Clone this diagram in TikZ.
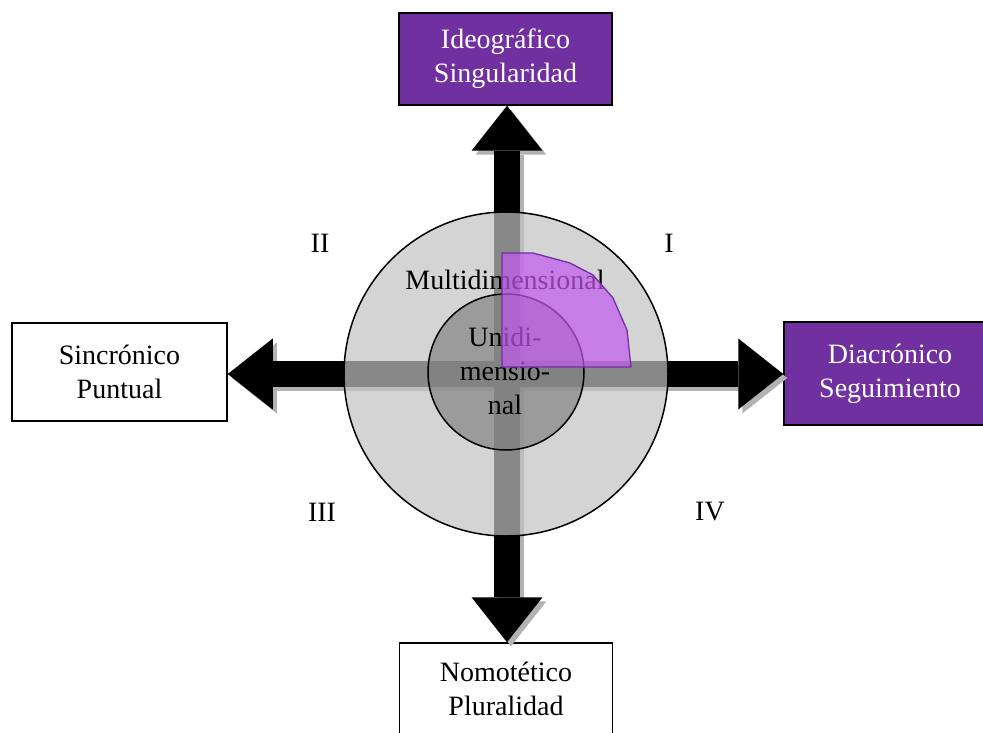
\documentclass[tikz,border=0pt]{standalone}
\usepackage{fontspec}
\setmainfont{Liberation Serif}
\usetikzlibrary{arrows.meta}

\definecolor{boxpurple}{HTML}{7030A0}
\definecolor{sectorfill}{RGB}{195,88,240}
\definecolor{outergray}{RGB}{194,194,194}
\definecolor{innergray}{RGB}{128,128,128}
\definecolor{shadowgray}{RGB}{178,178,178}
\newcommand\lblfont{\fontsize{28}{34}\selectfont}

\begin{document}
\begin{tikzpicture}[x=1pt,y=-1pt,
  box/.style={draw=black, line width=1.5pt, minimum width=213pt, minimum height=92pt,
              align=center, font=\lblfont, inner sep=0pt},
  purplebox/.style={box, fill=boxpurple, text=white},
  plainbox/.style={box, fill=white},
  blockarrow/.style={line width=26pt,
     -{Triangle[width=71pt,length=45pt,line width=0pt]}},
  shadowarrow/.style={blockarrow, draw=shadowgray},
  ring/.style={circle, draw=black, line width=1.5pt, inner sep=0pt},
  quad/.style={font=\lblfont, inner sep=0pt}]

\useasboundingbox (0,0) rectangle (983,733);

% the four end boxes
\node[purplebox] (ideo) at (505.5,59) {Ideográfico\\Singularidad};
\node[plainbox, minimum width=215pt, minimum height=98pt] (sinc) at (119.5,372) {Sincrónico\\Puntual};
\node[purplebox, minimum width=212pt, minimum height=103pt] (diac) at (890,373.5) {Diacrónico\\Seguimiento};
\node[plainbox] (nomo) at (506,689) {Nomotético\\Pluralidad};

% centre of the cross
\coordinate (o) at (507,374);

% drop shadows of the block arrows
\draw[shadowarrow] ([shift={(4,4)}]o) -- ([shift={(4,4)}]o |- ideo.south);
\draw[shadowarrow] ([shift={(4,4)}]o) -- ([shift={(4,4)}]o -| sinc.east);
\draw[shadowarrow] ([shift={(4,4)}]o) -- ([shift={(4,4)}]o -| diac.west);
\draw[shadowarrow] ([shift={(4,4)}]o) -- ([shift={(4,4)}]o |- nomo.north);

% block arrows
\draw[blockarrow] (o) -- (o |- ideo.south);
\draw[blockarrow] (o) -- (o -| sinc.east);
\draw[blockarrow] (o) -- (o -| diac.west);
\draw[blockarrow] (o) -- (o |- nomo.north);

% translucent discs
\node[ring, minimum size=324pt, fill=outergray, fill opacity=0.7] (outer) at (506,374) {};
\node[ring, minimum size=156pt, fill=innergray, fill opacity=0.67] (inner) at (506,372) {};

% disc labels
\node[font=\lblfont, inner sep=0pt] (multi) at (505,280) {Multidimensional};
\node[font=\lblfont, inner sep=0pt, align=center] (uni) at (505,371) {Unidi-\\mensio-\\nal};

% highlighted sector in quadrant I
\draw[line width=1.3pt, draw=boxpurple, fill=sectorfill, fill opacity=0.7]
  (502,367) -- (502,253) -- (533,253) -- (570,263) -- (593,275)
  -- (613,298) -- (627,330) -- (631,367) -- cycle;

% quadrant numerals
\node[quad] (q1) at (669,243) {I};
\node[quad] (q2) at (320,243) {II};
\node[quad] (q3) at (322,512) {III};
\node[quad] (q4) at (710,512) {IV};
\end{tikzpicture}
\end{document}
